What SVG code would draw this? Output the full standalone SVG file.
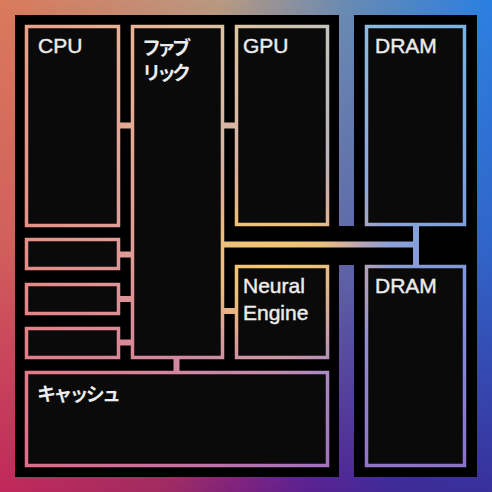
<svg xmlns="http://www.w3.org/2000/svg" width="492" height="492" viewBox="0 0 492 492">
  <defs>
    <linearGradient id="bgTop" gradientUnits="userSpaceOnUse" x1="0" y1="0" x2="492" y2="0">
      <stop offset="0" stop-color="#da7a5c"/>
      <stop offset="0.45" stop-color="#b89a82"/>
      <stop offset="0.7" stop-color="#6a8cb2"/>
      <stop offset="1" stop-color="#2a80e2"/>
    </linearGradient>
    <linearGradient id="bgBot" gradientUnits="userSpaceOnUse" x1="0" y1="0" x2="492" y2="0">
      <stop offset="0" stop-color="#c0285a"/>
      <stop offset="0.33" stop-color="#a02a60"/>
      <stop offset="0.5" stop-color="#7a2080"/>
      <stop offset="0.62" stop-color="#5a2090"/>
      <stop offset="0.8" stop-color="#3e2a98"/>
      <stop offset="1" stop-color="#38309a"/>
    </linearGradient>
    <linearGradient id="fade" gradientUnits="userSpaceOnUse" x1="0" y1="0" x2="0" y2="492">
      <stop offset="0" stop-color="#000"/>
      <stop offset="0.5" stop-color="#555"/>
      <stop offset="1" stop-color="#fff"/>
    </linearGradient>
    <mask id="fadeMask" maskUnits="userSpaceOnUse" x="0" y="0" width="492" height="492">
      <rect width="492" height="492" fill="url(#fade)"/>
    </mask>

    <linearGradient id="edgeTop" gradientUnits="userSpaceOnUse" x1="0" y1="0" x2="492" y2="0">
      <stop offset="0.05" stop-color="#e9a088"/>
      <stop offset="0.27" stop-color="#e9b494"/>
      <stop offset="0.48" stop-color="#dcc4a2"/>
      <stop offset="0.67" stop-color="#c2c4bc"/>
      <stop offset="0.74" stop-color="#8cbae0"/>
      <stop offset="0.95" stop-color="#78b2e2"/>
    </linearGradient>
    <linearGradient id="edgeBot" gradientUnits="userSpaceOnUse" x1="0" y1="0" x2="492" y2="0">
      <stop offset="0.05" stop-color="#e06c88"/>
      <stop offset="0.37" stop-color="#c872a2"/>
      <stop offset="0.67" stop-color="#a072c2"/>
      <stop offset="0.75" stop-color="#9274c8"/>
      <stop offset="0.95" stop-color="#8a72c8"/>
    </linearGradient>
    <radialGradient id="edgeGlow" gradientUnits="userSpaceOnUse" cx="272" cy="262" r="120">
      <stop offset="0" stop-color="#f6c870" stop-opacity="1"/>
      <stop offset="0.45" stop-color="#f2c474" stop-opacity="0.85"/>
      <stop offset="0.8" stop-color="#eea888" stop-opacity="0.35"/>
      <stop offset="1" stop-color="#eea088" stop-opacity="0"/>
    </radialGradient>
    <linearGradient id="edgeFade" gradientUnits="userSpaceOnUse" x1="0" y1="25" x2="0" y2="467">
      <stop offset="0" stop-color="#000"/>
      <stop offset="0.5" stop-color="#555"/>
      <stop offset="1" stop-color="#fff"/>
    </linearGradient>
    <mask id="edgeMask" maskUnits="userSpaceOnUse" x="0" y="0" width="492" height="492">
      <rect width="492" height="492" fill="url(#edgeFade)"/>
    </mask>
    <pattern id="edgePaint" patternUnits="userSpaceOnUse" x="0" y="0" width="492" height="492">
      <rect width="492" height="492" fill="url(#edgeTop)"/>
      <rect width="492" height="492" fill="url(#edgeBot)" mask="url(#edgeMask)"/>
      <rect width="492" height="492" fill="url(#edgeGlow)"/>
    </pattern>
    <style>
      .box { fill: #0a0a0a; stroke: url(#edgePaint); stroke-width: 3.5; }
      .link { stroke: url(#edgePaint); stroke-width: 6; fill: none; }
      .lbl { fill: #ececec; stroke: #ececec; stroke-width: 0.45; font-family: "Liberation Sans", Arial, sans-serif; font-size: 21px; }
      .jp { fill: #ececec; font-family: "Noto Sans CJK JP", "Noto Sans CJK SC", sans-serif; font-weight: 700; }
    </style>
  </defs>

  <!-- background -->
  <rect width="492" height="492" fill="url(#bgTop)"/>
  <rect width="492" height="492" fill="url(#bgBot)" mask="url(#fadeMask)"/>
  <path d="M15 15H477V477H15Z M339 15H354V226H339Z M339 265H354V477H339Z" fill="#000" fill-rule="evenodd"/>

  <g id="connectors">
    <line class="link" x1="119" y1="125.5" x2="132" y2="125.5"/>
    <line class="link" x1="223" y1="125.5" x2="236" y2="125.5"/>
    <line class="link" x1="119" y1="254.5" x2="132" y2="254.5"/>
    <line class="link" x1="119" y1="299" x2="132" y2="299"/>
    <line class="link" x1="119" y1="342.5" x2="132" y2="342.5"/>
    <line class="link" x1="223" y1="311" x2="236" y2="311"/>
    <line class="link" x1="176.5" y1="358" x2="176.5" y2="372"/>
    <path class="link" d="M223 244.5H416M416 225V266"/>
  </g>

  <g id="cpu">
    <rect class="box" x="26.5" y="26.5" width="92" height="199"/>
    <text class="lbl" x="38" y="53">CPU</text>
  </g>
  <g id="fabric">
    <rect class="box" x="132.5" y="26.5" width="90" height="331"/>
    <text class="jp" font-size="19" x="142" y="55" textLength="49" lengthAdjust="spacing">ファブ</text>
    <text class="jp" font-size="19" x="142" y="80" textLength="49" lengthAdjust="spacing">リック</text>
  </g>
  <g id="gpu">
    <rect class="box" x="236.5" y="26.5" width="91" height="198"/>
    <text class="lbl" x="243" y="53">GPU</text>
  </g>
  <g id="dram1">
    <rect class="box" x="366.5" y="26.5" width="98" height="198"/>
    <text class="lbl" x="375" y="53">DRAM</text>
  </g>
  <g id="dram2">
    <rect class="box" x="366.5" y="266.5" width="98" height="199"/>
    <text class="lbl" x="375" y="293">DRAM</text>
  </g>
  <g id="neural-engine">
    <rect class="box" x="236.5" y="266.5" width="91" height="91"/>
    <text class="lbl" x="243" y="293">Neural</text>
    <text class="lbl" x="243" y="320">Engine</text>
  </g>
  <g id="block1">
    <rect class="box" x="26.5" y="239.5" width="92" height="29"/>
  </g>
  <g id="block2">
    <rect class="box" x="26.5" y="284.5" width="92" height="29"/>
  </g>
  <g id="block3">
    <rect class="box" x="26.5" y="328.5" width="92" height="29"/>
  </g>
  <g id="cache">
    <rect class="box" x="26.5" y="372.5" width="301" height="93"/>
    <text class="jp" font-size="19" x="37" y="401" textLength="84" lengthAdjust="spacing">キャッシュ</text>
  </g>
</svg>
